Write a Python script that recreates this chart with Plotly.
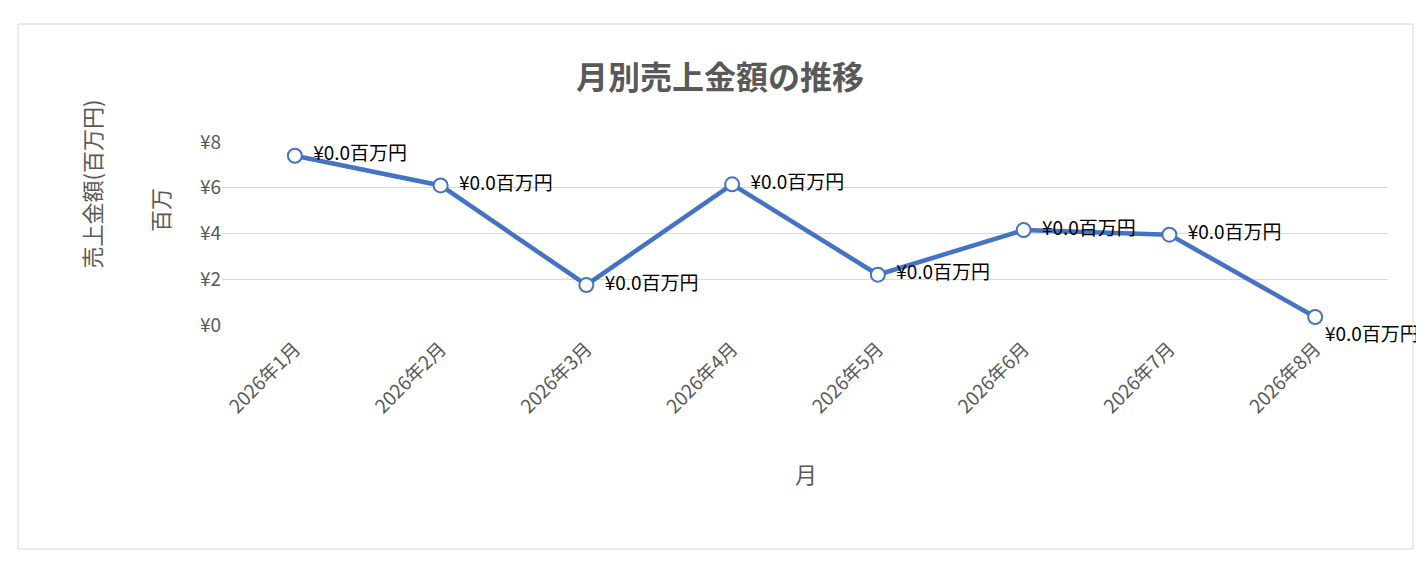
import plotly.graph_objects as go

months = ["2026年1月","2026年2月","2026年3月","2026年4月","2026年5月","2026年6月","2026年7月","2026年8月"]
sales = [7.4, 6.1, 1.75, 6.15, 2.2, 4.15, 3.95, 0.35]
labels = ["  ¥0.0百万円"] * 7 + ["¥0.0百万円"]
ticks = [0, 2, 4, 6, 8]
tick_text = ["¥0", "¥2", "¥4", "¥6", "¥8"]

positions = ["middle right"] * 7 + ["bottom right"]

L, T, W, H = 214, 134, 1166, 183
def px(x): return (x - L) / W
def py(y): return (T + H - y) / H

fig = go.Figure(go.Scatter(
    x=months, y=sales, mode="lines+markers+text",
    line=dict(color="#4472C4", width=4.5),
    marker=dict(size=14, color="white", line=dict(color="#4472C4", width=2)),
    text=labels, textposition=positions,
    textfont=dict(size=19, color="#000000"),
    cliponaxis=False,
))
font = "Noto Sans CJK JP"
fig.update_layout(
    width=1424, height=579,
    margin=dict(l=L, r=1424 - L - W, t=T, b=579 - T - H),
    paper_bgcolor="white", plot_bgcolor="white",
    font=dict(family=font, color="#595959"),
    showlegend=False,
    title=dict(text="<b>月別売上金額の推移</b>", x=0.5, xanchor="center", y=1 - 70/579, yanchor="middle",
               font=dict(size=32, color="#595959", family=font)),
    xaxis=dict(type="category", range=[-0.5, 7.5], tickangle=-45, tickfont=dict(size=19, color="#595959"),
               showgrid=False, showline=False, ticks="", ticklabelstandoff=8),
    yaxis=dict(range=[0, 8], tickvals=ticks, ticktext=tick_text, tickfont=dict(size=19, color="#595959"),
               gridcolor="#D9D9D9", gridwidth=1, zeroline=False, ticks="", showline=False),
    shapes=[dict(type="rect", xref="paper", yref="paper", x0=px(10), x1=px(1405),
                 y0=py(541), y1=py(16), line=dict(color="#D9D9D9", width=1))],
    annotations=[
        dict(text="売上金額(百万円)", xref="paper", yref="paper", x=px(64), y=py(263),
             showarrow=False, textangle=-90, font=dict(size=22, color="#595959")),
        dict(text="百万", xref="paper", yref="paper", x=px(133), y=py(178),
             showarrow=False, textangle=-90, font=dict(size=22, color="#595959")),
        dict(text="月", xref="paper", yref="paper", x=px(798), y=py(483),
             showarrow=False, font=dict(size=22, color="#595959")),
    ],
)
fig.write_html("out.html")
